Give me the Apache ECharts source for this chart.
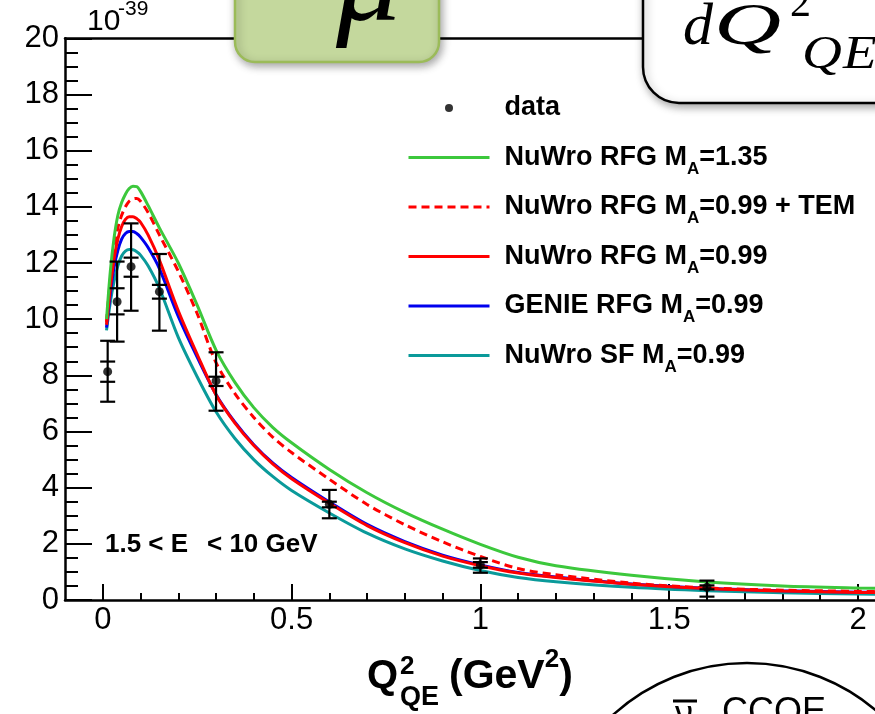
<!DOCTYPE html>
<html>
<head>
<meta charset="utf-8">
<script src="https://cdn.jsdelivr.net/npm/echarts@6.0.0/dist/echarts.min.js"></script>
<style>
  html, body { margin: 0; padding: 0; background: #fff; }
  #main { width: 875px; height: 714px; }
</style>
</head>
<body>
<div id="main"></div>
<script>
// Q2 grid used by the model curves (GeV^2)
var qGrid = [0.01, 0.02, 0.03, 0.04, 0.05, 0.06, 0.07, 0.08, 0.09, 0.1, 0.12, 0.15, 0.2, 0.25, 0.3, 0.35, 0.4, 0.45, 0.5, 0.6, 0.7, 0.8, 0.9, 1.0, 1.1, 1.2, 1.4, 1.6, 1.8, 2.0, 2.1];

// model curves, units of 1e-39
var nuwroMa135 = [10.0, 11.7, 12.9, 13.7, 14.15, 14.45, 14.65, 14.73, 14.72, 14.55, 14.05, 13.25, 12.0, 10.5, 8.9, 7.75, 6.85, 6.15, 5.6, 4.65, 3.82, 3.12, 2.52, 1.98, 1.52, 1.22, 0.88, 0.64, 0.5, 0.43, 0.41];
var nuwroTem = [9.9, 11.4, 12.5, 13.25, 13.7, 14.0, 14.2, 14.28, 14.3, 14.2, 13.8, 13.0, 11.7, 10.2, 8.45, 7.35, 6.5, 5.8, 5.25, 4.3, 3.4, 2.68, 2.07, 1.55, 1.12, 0.9, 0.6, 0.43, 0.35, 0.31, 0.3];
var nuwroMa099 = [9.8, 11.1, 12.15, 12.85, 13.3, 13.55, 13.65, 13.65, 13.58, 13.45, 13.0, 12.1, 10.3, 8.75, 7.3, 6.3, 5.5, 4.85, 4.32, 3.45, 2.65, 2.04, 1.56, 1.22, 0.96, 0.8, 0.56, 0.41, 0.32, 0.27, 0.26];
var genieMa099 = [9.7, 10.9, 11.85, 12.45, 12.85, 13.05, 13.12, 13.12, 13.05, 12.92, 12.55, 11.8, 10.1, 8.65, 7.32, 6.33, 5.53, 4.88, 4.36, 3.49, 2.69, 2.08, 1.6, 1.25, 0.98, 0.82, 0.57, 0.42, 0.33, 0.28, 0.27];
var nuwroSf = [9.6, 10.6, 11.35, 11.9, 12.25, 12.42, 12.48, 12.47, 12.4, 12.28, 11.9, 11.1, 9.35, 7.95, 6.7, 5.75, 5.0, 4.4, 3.9, 3.1, 2.38, 1.82, 1.39, 1.05, 0.8, 0.65, 0.45, 0.33, 0.26, 0.21, 0.2];

// data points with stat (inner) and total (outer) errors
var dataQ = [0.013, 0.038, 0.075, 0.15, 0.3, 0.6, 1.0, 1.6];
var dataVal = [8.13, 10.62, 11.87, 10.98, 7.8, 3.41, 1.25, 0.45];
var statLo = [7.77, 10.17, 11.51, 10.73, 7.62, 3.3, 1.15, 0.38];
var statHi = [8.49, 11.1, 12.19, 11.22, 7.95, 3.5, 1.35, 0.52];
var totLo = [7.06, 9.2, 10.3, 9.59, 6.74, 2.91, 0.97, 0.12];
var totHi = [9.23, 12.05, 13.41, 12.32, 8.82, 3.92, 1.48, 0.69];

// axis ticks
var xLabelTicks = [0, 0.5, 1, 1.5, 2];
var xMinorTicks = [0.1, 0.2, 0.3, 0.4, 0.6, 0.7, 0.8, 0.9, 1.1, 1.2, 1.3, 1.4, 1.6, 1.7, 1.8, 1.9];

var legendNames = ['data', 'NuWro RFG MA=1.35', 'NuWro RFG MA=0.99 + TEM', 'NuWro RFG MA=0.99', 'GENIE RFG MA=0.99', 'NuWro SF MA=0.99'];
var legendText = {
  'data': '{f|data}{s| }',
  'NuWro RFG MA=1.35': '{f|NuWro RFG M}{s|A}{m|=1.35}',
  'NuWro RFG MA=0.99 + TEM': '{f|NuWro RFG M}{s|A}{m|=0.99 + TEM}',
  'NuWro RFG MA=0.99': '{f|NuWro RFG M}{s|A}{m|=0.99}',
  'GENIE RFG MA=0.99': '{f|GENIE RFG M}{s|A}{m|=0.99}',
  'NuWro SF MA=0.99': '{f|NuWro SF M}{s|A}{m|=0.99}'
};

var FONT = 'Liberation Sans, Arial, sans-serif';
var SERIF = 'Liberation Serif, DejaVu Serif, serif';

function pairs(ys) {
  return qGrid.map(function (q, i) { return [q, ys[i]]; });
}

function curve(name, ys, color, dashed) {
  return {
    name: name,
    type: 'line',
    data: pairs(ys),
    symbol: 'none',
    smooth: 0.3,
    lineStyle: { color: color, width: 3, type: dashed ? [8, 5] : 'solid' },
    itemStyle: { color: color },
    z: 3
  };
}

// legend entry for a line: no marker in the middle
function lineEntry(name) {
  return { name: name, itemStyle: { color: 'rgba(0,0,0,0)', borderWidth: 0 }, lineStyle: { width: 3 } };
}

// text placed by the centre of its capitals
function txt(x, capMid, s, size, opts) {
  opts = opts || {};
  return {
    type: 'text',
    z: 120,
    x: x, y: capMid,
    scaleX: opts.sx || 1,
    style: {
      x: 0, y: 0, text: s,
      font: (opts.style || '') + ' ' + (opts.weight || 'normal') + ' ' + size + 'px ' + (opts.family || FONT),
      fill: '#000', align: 'left', verticalAlign: 'middle'
    }
  };
}

var chart = echarts.init(document.getElementById('main'));

chart.setOption({
  animation: false,
  backgroundColor: '#fff',
  grid: { left: 65, top: 38.3, bottom: 114, right: 0, show: false },
  xAxis: [{
    type: 'value', min: -0.1, max: 2.045,
    axisLine: { onZero: false, lineStyle: { color: '#000', width: 2.5 } },
    axisTick: { inside: true, length: 16, customValues: xLabelTicks, lineStyle: { color: '#000', width: 2 } },
    axisLabel: { customValues: xLabelTicks, margin: 5, fontSize: 31, fontFamily: FONT, color: '#000' },
    splitLine: { show: false }
  }, {
    type: 'value', min: -0.1, max: 2.045, position: 'bottom',
    axisLine: { show: false },
    axisTick: { inside: true, length: 7, customValues: xMinorTicks, lineStyle: { color: '#000', width: 2 } },
    axisLabel: { show: false },
    splitLine: { show: false }
  }, {
    // top frame line
    type: 'value', min: -0.1, max: 2.045, position: 'top',
    axisLine: { onZero: false, lineStyle: { color: '#000', width: 2.5 } },
    axisTick: { show: false },
    axisLabel: { show: false },
    splitLine: { show: false }
  }],
  yAxis: {
    type: 'value', min: 0, max: 20, interval: 2,
    axisLine: { show: true, onZero: false, lineStyle: { color: '#000', width: 2.5 } },
    axisTick: { show: true, inside: true, length: 27, lineStyle: { color: '#000', width: 2 } },
    minorTick: { show: true, splitNumber: 4, length: 13, lineStyle: { color: '#000', width: 2 } },
    axisLabel: { margin: 6, fontSize: 31, fontFamily: FONT, color: '#000' },
    splitLine: { show: false }
  },
  legend: {
    data: ['data'].concat(legendNames.slice(1).map(lineEntry)),
    orient: 'vertical',
    left: 407, top: 94.5,
    padding: 0,
    itemWidth: 81, itemHeight: 8, itemGap: 16,
    textStyle: {
      rich: {
        f: { fontSize: 27, fontWeight: 'bold', fontFamily: FONT, color: '#000', lineHeight: 40, padding: [0, 0, 0, 10] },
        m: { fontSize: 27, fontWeight: 'bold', fontFamily: FONT, color: '#000', lineHeight: 40 },
        s: { fontSize: 17, fontWeight: 'bold', fontFamily: FONT, color: '#000', lineHeight: 16, verticalAlign: 'bottom' }
      }
    },
    formatter: function (name) { return legendText[name]; }
  },
  series: [
    curve('NuWro SF MA=0.99', nuwroSf, '#0a9a9a'),
    curve('GENIE RFG MA=0.99', genieMa099, '#0000ee'),
    curve('NuWro RFG MA=0.99', nuwroMa099, '#ff0000'),
    curve('NuWro RFG MA=0.99 + TEM', nuwroTem, '#ff0000', true),
    curve('NuWro RFG MA=1.35', nuwroMa135, '#3cc83c'),
    {
      name: 'errors',
      type: 'custom',
      data: dataQ.map(function (q, i) { return [q, statLo[i], statHi[i], totLo[i], totHi[i]]; }),
      encode: { x: 0, y: [1, 2, 3, 4] },
      z: 5,
      renderItem: function (params, api) {
        var x = api.value(0);
        var sLo = api.coord([x, api.value(1)]);
        var sHi = api.coord([x, api.value(2)]);
        var tLo = api.coord([x, api.value(3)]);
        var tHi = api.coord([x, api.value(4)]);
        var st = { stroke: '#000', lineWidth: 2.2 };
        function cap(p) {
          return { type: 'line', shape: { x1: p[0] - 7.5, y1: p[1], x2: p[0] + 7.5, y2: p[1] }, style: st };
        }
        return {
          type: 'group',
          children: [
            { type: 'line', shape: { x1: tHi[0], y1: tHi[1], x2: tLo[0], y2: tLo[1] }, style: st },
            cap(tHi), cap(tLo), cap(sHi), cap(sLo)
          ]
        };
      }
    },
    {
      name: 'data',
      type: 'scatter',
      data: dataQ.map(function (q, i) { return [q, dataVal[i]]; }),
      symbol: 'circle',
      symbolSize: 9,
      itemStyle: { color: '#000' },
      z: 6
    }
  ],
  graphic: [
    // green title box (cut at the top)
    { type: 'rect', z: 100, shape: { x: 235, y: -40, width: 204, height: 102, r: 20 },
      style: { fill: '#c4d89d', stroke: '#9bbb59', lineWidth: 2.5, shadowBlur: 8, shadowOffsetX: 2, shadowOffsetY: 3, shadowColor: 'rgba(0,0,0,0.35)' } },
    txt(336, -14, 'μ', 130, { style: 'italic', family: SERIF }),
    // white formula box (cut at the top right)
    { type: 'rect', z: 100, shape: { x: 643, y: -60, width: 280, height: 163, r: 36 },
      style: { fill: '#fff', stroke: '#000', lineWidth: 2.5, shadowBlur: 8, shadowOffsetX: 2, shadowOffsetY: 3, shadowColor: 'rgba(0,0,0,0.35)' } },
    txt(683, 28, 'd', 60, { style: 'italic', family: SERIF }),
    txt(714, 28, 'Q', 60, { style: 'italic', family: SERIF, sx: 1.55 }),
    txt(790, 5, '2', 42, { family: SERIF }),
    txt(802, 56, 'Q', 46, { style: 'italic', family: SERIF, sx: 1.2 }),
    txt(843, 56, 'E', 46, { style: 'italic', family: SERIF, sx: 1.2 }),
    // exponent above the y axis
    txt(87, 22, '10', 30),
    txt(118, 9, '-39', 21),
    // energy range
    txt(105, 545, '1.5 < E', 26, { weight: 'bold' }),
    txt(207, 545, '< 10 GeV', 26, { weight: 'bold' }),
    // x axis title
    txt(367, 677, 'Q', 40, { weight: 'bold' }),
    txt(400, 667, '2', 26, { weight: 'bold' }),
    txt(400, 698, 'QE', 27, { weight: 'bold' }),
    { type: 'text', z: 120, style: { x: 449, y: 677, text: '{b|(GeV}{p|2}{b|)}', verticalAlign: 'middle',
      rich: {
        b: { font: 'bold 41px ' + FONT, fill: '#000', lineHeight: 44 },
        p: { font: 'bold 26px ' + FONT, fill: '#000', lineHeight: 60, verticalAlign: 'top' }
      } } },
    // circle label at the bottom right (cut off)
    { type: 'circle', z: 100, shape: { cx: 747, cy: 862, r: 199 }, style: { fill: 'none', stroke: '#000', lineWidth: 2.5 } },
    { type: 'line', z: 120, shape: { x1: 673, y1: 701, x2: 697, y2: 701 }, style: { stroke: '#000', lineWidth: 3 } },
    txt(675, 716, 'ν', 36),
    txt(722, 713, 'CCQE', 36)
  ]
});
</script>
</body>
</html>
